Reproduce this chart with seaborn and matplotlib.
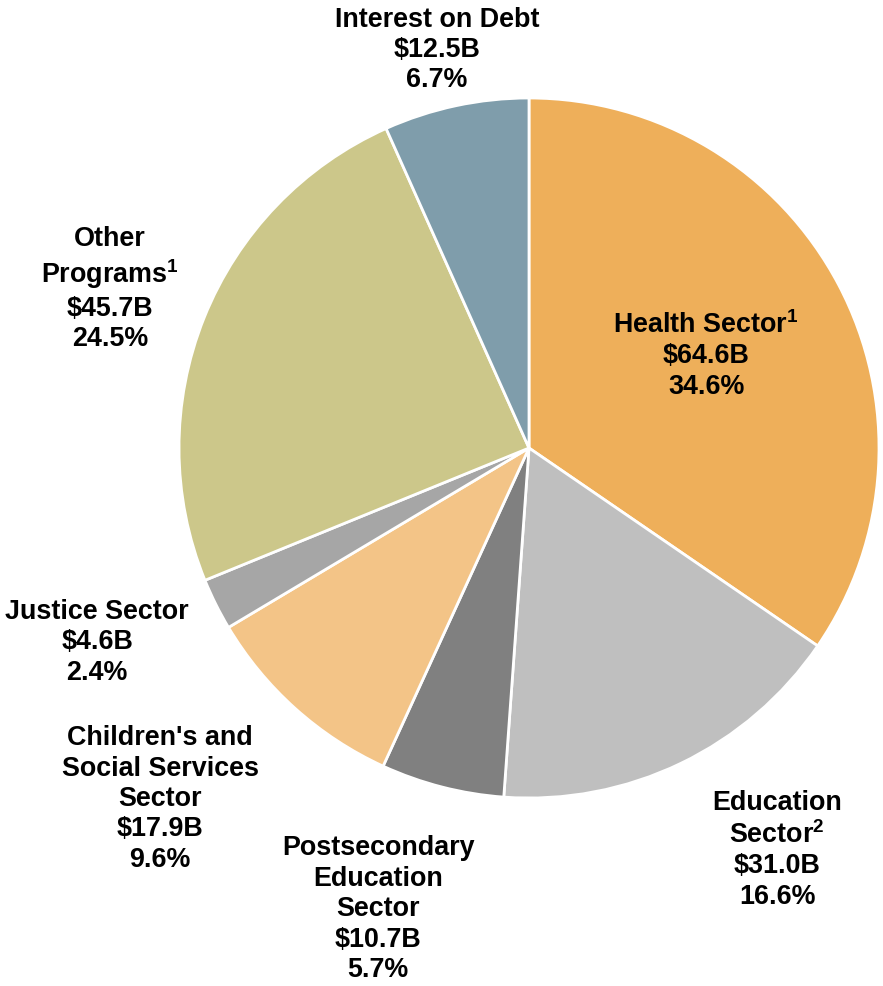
import matplotlib
matplotlib.use("Agg")
import matplotlib.pyplot as plt
import seaborn as sns

sns.set_style("white")
plt.rcParams["font.family"] = ["Liberation Sans", "DejaVu Sans"]
plt.rcParams["mathtext.fontset"] = "custom"
plt.rcParams["mathtext.bf"] = "Liberation Sans:bold"
plt.rcParams["mathtext.rm"] = "Liberation Sans:bold"

sectors = [r"Health Sector$^{\mathbf{1}}$", "Education\n" + r"Sector$^{\mathbf{2}}$",
           "Postsecondary\nEducation\nSector",
           "Children's and\nSocial Services\nSector", "Justice Sector",
           "Other\n" + r"Programs$^{\mathbf{1}}$", "Interest on Debt"]
amounts = [64.6, 31.0, 10.7, 17.9, 4.6, 45.7, 12.5]
shares = [34.6, 16.6, 5.7, 9.6, 2.4, 24.5, 6.7]
colors = ["#EEAF5A", "#BFBFBF", "#808080", "#F3C487", "#A6A6A6", "#CCC78A", "#7F9DAB"]

# label anchor points in axis units (pie radius = 1)
label_xy = [(0.506, 0.268), (0.709, -1.146), (-0.431, -1.315), (-1.054, -1.0),
            (-1.234, -0.552), (-1.197, 0.457), (-0.263, 1.14)]

W, H = 883, 987
cx, cy, r = 529, 449, 350
fig = plt.figure(figsize=(W / 100, H / 100), dpi=100)
ax = fig.add_axes([(cx - r) / W, (H - cy - r) / H, 2 * r / W, 2 * r / H])

ax.pie(shares, colors=colors, startangle=90, counterclock=False, radius=1,
       wedgeprops=dict(edgecolor="white", linewidth=2.0))
ax.set_xlim(-1, 1)
ax.set_ylim(-1, 1)
ax.set_aspect("equal")
ax.axis("off")

for name, amt, pct, (x, y) in zip(sectors, amounts, shares, label_xy):
    ax.text(x, y, f"{name}\n\\${amt:.1f}B\n{pct:.1f}%", ha="center", va="center",
            multialignment="center", fontsize=19.4, fontweight="bold",
            linespacing=1.22, color="black", clip_on=False)

fig.savefig("out.png", dpi=100)
